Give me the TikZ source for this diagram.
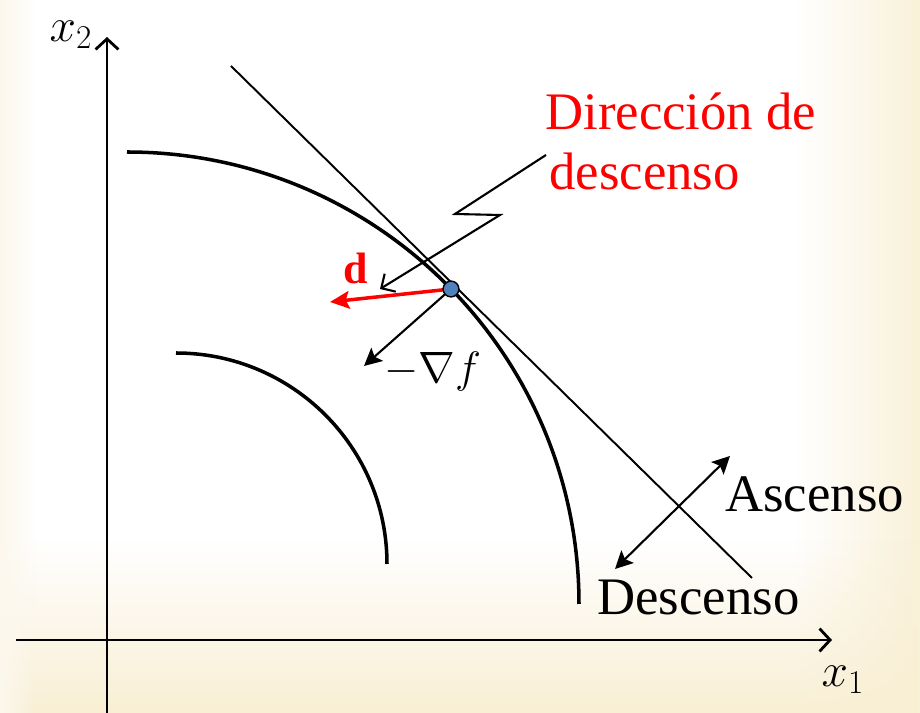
\RequirePackage{fix-cm}
\documentclass[tikz,border=0pt]{standalone}
\usepackage{fontspec}
\setmainfont{Liberation Serif}
\usetikzlibrary{arrows.meta,fadings}

\definecolor{parchment}{RGB}{248,236,204}
\definecolor{pointblue}{RGB}{79,129,189}

\begin{document}
\begin{tikzpicture}[x=2cm,y=2cm,
    axis/.style={line width=1.6pt,-{Straight Barb[length=6pt,width=13pt]}},
    level/.style={line width=2pt},
    tangent/.style={line width=1.1pt},
    grad/.style={line width=1.2pt,-{Stealth[length=10pt,width=10pt,inset=2pt]}},
    zig/.style={line width=1.2pt,-{Straight Barb[length=6pt,width=12pt]}},
    dirarrow/.style={red,line width=2pt,-{Stealth[length=11pt,width=10pt,inset=2pt]}},
    lbl/.style={font=\fontsize{30}{34}\selectfont,inner sep=0pt,anchor=base west},
    axlbl/.style={font=\fontsize{27}{30}\selectfont,inner sep=0pt}]

    % BACKGROUND (white paper, warm edges)
    \useasboundingbox (-1.07,-0.73) rectangle (8.13,6.40);
    \fill[white] (-1.07,-0.73) rectangle (8.13,6.40);
    \fill[parchment!75,path fading=west] (6.9,-0.73) rectangle (8.13,6.40);
    \fill[parchment!85,path fading=north] (-1.07,-0.73) rectangle (8.13,1.0);
    \fill[parchment!35,path fading=east] (-1.07,-0.73) rectangle (-0.7,6.40);

    % AXES
    \coordinate (ybot) at (0,-0.73);
    \coordinate (ytop) at (0,6.03);
    \coordinate (xleft) at (-0.91,0);
    \coordinate (xright) at (7.25,0);
    \draw[axis] (ybot) -- (ytop);
    \draw[axis] (xleft) -- (xright);
    \node[axlbl] (xtwo) at (-0.36,6.05) {$x_2$};
    \node[axlbl] (xone) at (7.36,-0.40) {$x_1$};

    % LEVEL CURVES
    \draw[level] (0.69,2.87) arc[start angle=90,end angle=0,radius=2.11];
    \draw[level] (0.20,4.88) arc[start angle=90,end angle=0,radius=4.52];

    % TANGENT LINE
    \coordinate (ttop) at (1.24,5.74);
    \coordinate (tbot) at (6.45,0.62);
    \draw[tangent] (ttop) -- (tbot);

    % THE POINT AND ITS DIRECTIONS
    \coordinate (P) at (3.44,3.51);
    \coordinate (gtip) at (2.57,2.74);
    \coordinate (dtip) at (2.23,3.38);
    \draw[grad] (P) -- (gtip);
    \draw[dirarrow] (P) -- (dtip);
    \node[draw,fill=pointblue,circle,line width=0.8pt,inner sep=0pt,minimum size=9pt] (pt) at (P) {};
    \node[font=\fontsize{25}{28}\selectfont\bfseries,text=red,inner sep=0pt,anchor=base] (dlbl) at (2.49,3.56) {d};
    \node[font=\fontsize{25}{28}\selectfont,inner sep=0pt,anchor=base west] (gradlbl) at (2.77,2.57) {$-\nabla f$};

    % DIRECTION LABEL WITH ZIGZAG POINTER
    \node[lbl,text=red] (dir1) at (4.38,5.10) {Dirección de};
    \node[lbl,text=red] (dir2) at (4.42,4.50) {descenso};
    \coordinate (zstart) at (4.39,4.85);
    \coordinate (zk1) at (3.48,4.26);
    \coordinate (zk2) at (3.93,4.25);
    \coordinate (ztip) at (2.73,3.51);
    \draw[zig] (zstart) -- (zk1) -- (zk2) -- (ztip);

    % ASCENT / DESCENT
    \coordinate (up) at (6.23,1.84);
    \coordinate (down) at (5.08,0.71);
    \draw[line width=1.2pt,{Stealth[length=10pt,width=10pt,inset=2pt]}-{Stealth[length=10pt,width=10pt,inset=2pt]}] (down) -- (up);
    \node[lbl] (asc) at (6.18,1.28) {Ascenso};
    \node[lbl] (desc) at (4.90,0.25) {Descenso};

\end{tikzpicture}
\end{document}
